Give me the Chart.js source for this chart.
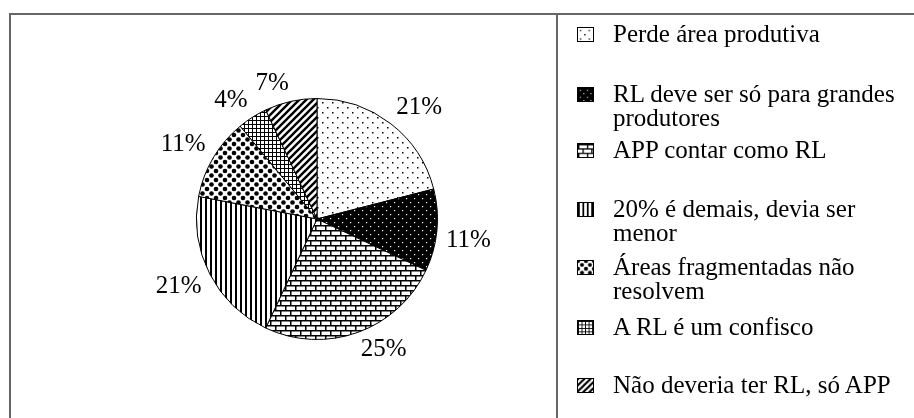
<!DOCTYPE html>
<html>
<head>
<meta charset="utf-8">
<script src="https://cdn.jsdelivr.net/npm/chart.js@4"></script>
<style>
	html, body { margin: 0; padding: 0; background: #fff; }
	#pagina { position: relative; width: 914px; height: 418px; overflow: hidden; font-family: "Liberation Serif", "DejaVu Serif", serif; }
	#grafico { position: absolute; left: 0; top: 0; }
	.linha { position: absolute; background: #666; }
	.item { position: absolute; left: 613px; font-size: 25px; line-height: 24px; color: #000; white-space: nowrap; }
	.amostra { position: absolute; left: 577px; width: 17px; height: 15px; border: 1px solid #000; box-sizing: border-box; }
</style>
</head>
<body>
<div id="pagina">
	<canvas id="grafico" width="914" height="418"></canvas>
	<div class="linha" style="left:9px; top:13px; width:905px; height:2px;"></div>
	<div class="linha" style="left:9px; top:13px; width:2px; height:405px;"></div>
	<div class="linha" style="left:556px; top:13px; width:2px; height:405px;"></div>
	<div id="legenda"></div>
</div>
<script>
var categorias = [
	'Perde área produtiva',
	'RL deve ser só para grandes produtores',
	'APP contar como RL',
	'20% é demais, devia ser menor',
	'Áreas fragmentadas não resolvem',
	'A RL é um confisco',
	'Não deveria ter RL, só APP'
];
var valores = [21, 11, 25, 21, 11, 4, 7];
var rotulosLegenda = [
	['Perde área produtiva'],
	['RL deve ser só para grandes', 'produtores'],
	['APP contar como RL'],
	['20% é demais, devia ser', 'menor'],
	['Áreas fragmentadas não', 'resolvem'],
	['A RL é um confisco'],
	['Não deveria ter RL, só APP']
];
var basesLegenda = [42, 102, 158, 217, 275, 335, 393];

function tile(w, h, desenha) {
	var c = document.createElement('canvas');
	c.width = w; c.height = h;
	var g = c.getContext('2d');
	desenha(g);
	return c;
}

function bolinha(g, x, y, r) {
	g.beginPath(); g.arc(x, y, r, 0, Math.PI * 2); g.fill();
}

var tiles = [
	tile(10, 10, function(g) {
		g.fillStyle = '#fff'; g.fillRect(0, 0, 10, 10);
		g.fillStyle = '#000'; g.fillRect(2, 2, 1.5, 1.5); g.fillRect(7, 7, 1.5, 1.5);
	}),
	tile(8, 8, function(g) {
		g.fillStyle = '#000'; g.fillRect(0, 0, 8, 8);
		g.fillStyle = '#fff'; g.fillRect(2, 2, 1.2, 1.2); g.fillRect(6, 6, 1.2, 1.2);
	}),
	tile(10, 10, function(g) {
		g.fillStyle = '#fff'; g.fillRect(0, 0, 10, 10);
		g.fillStyle = '#000';
		g.fillRect(0, 0, 10, 1.5); g.fillRect(0, 5, 10, 1.5);
		g.fillRect(0, 0, 1.5, 5); g.fillRect(5, 5, 1.5, 5);
	}),
	tile(5, 5, function(g) {
		g.fillStyle = '#fff'; g.fillRect(0, 0, 5, 5);
		g.fillStyle = '#000'; g.fillRect(0, 0, 2, 5);
	}),
	tile(9, 9, function(g) {
		g.fillStyle = '#fff'; g.fillRect(0, 0, 9, 9);
		g.fillStyle = '#000';
		bolinha(g, 0, 0, 2.3); bolinha(g, 9, 0, 2.3); bolinha(g, 0, 9, 2.3); bolinha(g, 9, 9, 2.3);
		bolinha(g, 4.5, 4.5, 2.3);
	}),
	tile(4, 4, function(g) {
		g.fillStyle = '#fff'; g.fillRect(0, 0, 4, 4);
		g.fillStyle = '#000'; g.fillRect(0, 0, 4, 1); g.fillRect(0, 0, 1, 4);
	}),
	tile(7, 7, function(g) {
		g.fillStyle = '#fff'; g.fillRect(0, 0, 7, 7);
		g.strokeStyle = '#000'; g.lineWidth = 2.4;
		g.beginPath(); g.moveTo(-1, 8); g.lineTo(8, -1); g.stroke();
		g.beginPath(); g.moveTo(-1, 1); g.lineTo(1, -1); g.stroke();
		g.beginPath(); g.moveTo(6, 8); g.lineTo(8, 6); g.stroke();
	})
];

var ctx = document.getElementById('grafico').getContext('2d');
var padroes = tiles.map(function(t) { return ctx.createPattern(t, 'repeat'); });

// rótulo fora da fatia: o canto mais próximo da caixa encosta num raio um pouco maior
var rotulosPercentuais = {
	id: 'rotulosPercentuais',
	afterDatasetsDraw: function(chart) {
		var c = chart.ctx;
		var meta = chart.getDatasetMeta(0);
		c.save();
		c.font = '25px "Liberation Serif", serif';
		c.fillStyle = '#000';
		c.textAlign = 'center';
		c.textBaseline = 'middle';
		meta.data.forEach(function(arco, i) {
			var p = arco.getProps(['x', 'y', 'startAngle', 'endAngle', 'outerRadius'], true);
			var meio = (p.startAngle + p.endAngle) / 2;
			var r = p.outerRadius + 9;
			var texto = valores[i] + '%';
			var w = c.measureText(texto).width;
			var dx = Math.cos(meio), dy = Math.sin(meio);
			var x = p.x + dx * r + Math.sign(dx) * w / 2;
			var y = p.y + dy * r + Math.sign(dy) * 9;
			c.fillText(texto, x, y);
		});
		c.restore();
	}
};

new Chart(ctx, {
	type: 'pie',
	data: {
		labels: categorias,
		datasets: [{
			data: valores,
			backgroundColor: padroes,
			borderColor: '#000',
			borderWidth: 1
		}]
	},
	options: {
		responsive: false,
		animation: false,
		layout: { padding: { left: 196, right: 476, top: 98, bottom: 78 } },
		plugins: {
			legend: { display: false },
			tooltip: { enabled: false }
		}
	},
	plugins: [rotulosPercentuais]
});

var legenda = document.getElementById('legenda');
rotulosLegenda.forEach(function(linhas, i) {
	var a = document.createElement('canvas');
	a.className = 'amostra';
	a.width = 17; a.height = 15;
	a.style.top = (basesLegenda[i] - 15) + 'px';
	var g = a.getContext('2d');
	g.fillStyle = g.createPattern(tiles[i], 'repeat');
	g.fillRect(0, 0, 17, 15);
	legenda.appendChild(a);
	linhas.forEach(function(texto, j) {
		var d = document.createElement('div');
		d.className = 'item';
		d.style.top = (basesLegenda[i] - 20 + j * 24) + 'px';
		d.textContent = texto;
		legenda.appendChild(d);
	});
});
</script>
</body>
</html>
